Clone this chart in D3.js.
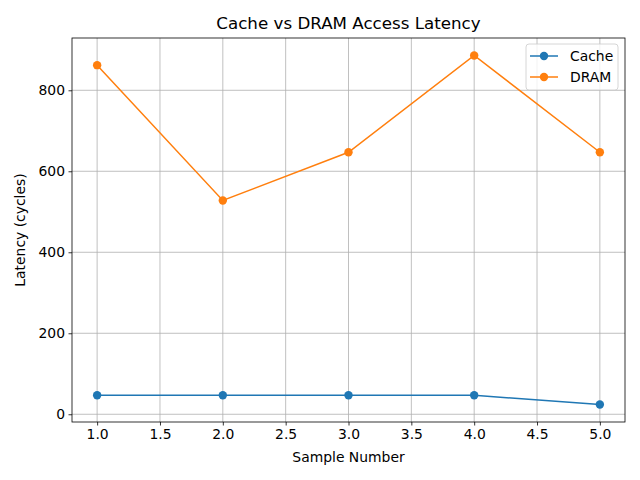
<!DOCTYPE html>
<html><head><meta charset="utf-8">
<script src="https://cdn.jsdelivr.net/npm/d3@7"></script>
<style>body{margin:0;background:#fff}svg{display:block}text{font-family:"DejaVu Sans",sans-serif;fill:#000}</style>
</head><body>
<script>
const samples = [1, 2, 3, 4, 5];
const cache = [47, 47, 47, 47, 24];
const dram = [862, 528, 647, 886, 647];
const seriesNames = ["Cache", "DRAM"];
const colors = ["#1f77b4", "#ff7f0e"];
const xTicks = [1.0, 1.5, 2.0, 2.5, 3.0, 3.5, 4.0, 4.5, 5.0];
const yTicks = [0, 200, 400, 600, 800];

const W = 640, H = 480;
const m = {left: 72, right: 625, top: 38, bottom: 422};
const svg = d3.select("body").append("svg").attr("width", W).attr("height", H);

const allY = cache.concat(dram);
const ymin = d3.min(allY), ymax = d3.max(allY), yr = ymax - ymin;
const x = d3.scaleLinear().domain([0.8, 5.2]).range([m.left, m.right]);
const y = d3.scaleLinear().domain([ymin - 0.05 * yr, ymax + 0.05 * yr]).range([m.bottom, m.top]);

// grid
const g = svg.append("g");
g.selectAll(".vx").data(xTicks).join("line")
  .attr("x1", d => x(d)).attr("x2", d => x(d)).attr("y1", m.top).attr("y2", m.bottom)
  .attr("stroke", "#b0b0b0").attr("stroke-width", 0.8);
g.selectAll(".hy").data(yTicks).join("line")
  .attr("y1", d => y(d)).attr("y2", d => y(d)).attr("x1", m.left).attr("x2", m.right)
  .attr("stroke", "#b0b0b0").attr("stroke-width", 0.8);

// axes
const xAxis = d3.axisBottom(x).tickValues(xTicks).tickFormat(d3.format(".1f")).tickSize(3.5).tickPadding(3.5);
const yAxis = d3.axisLeft(y).tickValues(yTicks).tickFormat(d3.format("d")).tickSize(3.5).tickPadding(3.5);
const gx = svg.append("g").attr("transform", `translate(0,${m.bottom})`).call(xAxis);
const gy = svg.append("g").attr("transform", `translate(${m.left},0)`).call(yAxis);
[gx, gy].forEach(a => {
  a.select(".domain").remove();
  a.selectAll("line").attr("stroke", "#000").attr("stroke-width", 0.8);
  a.selectAll("text").style("font-size", "13.9px").style("font-family", "DejaVu Sans");
});

// lines
const series = [cache, dram];
const line = d3.line().x((d, i) => x(samples[i])).y(d => y(d));
series.forEach((s, k) => {
  svg.append("path").datum(s).attr("d", line).attr("fill", "none")
    .attr("stroke", colors[k]).attr("stroke-width", 1.5);
  svg.selectAll(".pt" + k).data(s).join("circle")
    .attr("cx", (d, i) => x(samples[i])).attr("cy", d => y(d)).attr("r", 4.2)
    .attr("fill", colors[k]);
});

// frame
svg.append("rect").attr("x", m.left).attr("y", m.top).attr("width", m.right - m.left)
  .attr("height", m.bottom - m.top).attr("fill", "none").attr("stroke", "#000").attr("stroke-width", 0.8);

// labels
svg.append("text").attr("x", (m.left + m.right) / 2).attr("y", 29).attr("text-anchor", "middle")
  .style("font-size", "16.7px").text("Cache vs DRAM Access Latency");
svg.append("text").attr("x", (m.left + m.right) / 2).attr("y", 462).attr("text-anchor", "middle")
  .style("font-size", "13.9px").text("Sample Number");
svg.append("text").attr("transform", `translate(25,${(m.top + m.bottom) / 2}) rotate(-90)`)
  .attr("text-anchor", "middle").style("font-size", "13.9px").text("Latency (cycles)");

// legend
const lg = svg.append("g");
lg.append("rect").attr("x", 526).attr("y", 44).attr("width", 92).attr("height", 46).attr("rx", 3)
  .attr("fill", "#fff").attr("fill-opacity", 0.8).attr("stroke", "#cccccc").attr("stroke-width", 0.8);
seriesNames.forEach((n, k) => {
  const yy = 56 + k * 21;
  lg.append("line").attr("x1", 530).attr("x2", 558).attr("y1", yy).attr("y2", yy)
    .attr("stroke", colors[k]).attr("stroke-width", 1.5);
  lg.append("circle").attr("cx", 544).attr("cy", yy).attr("r", 4.2).attr("fill", colors[k]);
  lg.append("text").attr("x", 570).attr("y", yy + 5).style("font-size", "13.9px").text(n);
});
</script>
</body></html>
